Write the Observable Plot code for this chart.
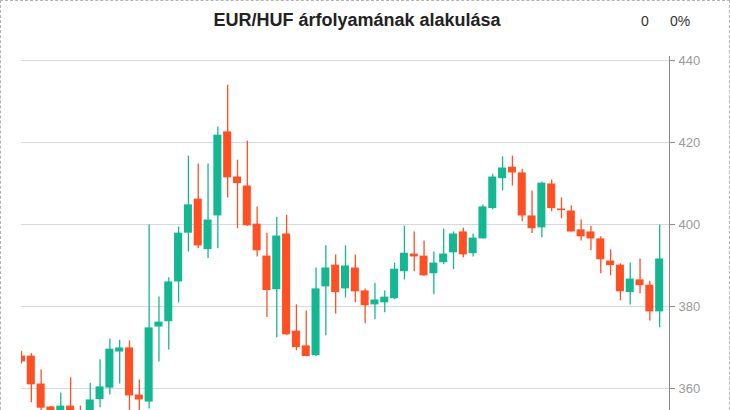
<!DOCTYPE html>
<html>
<head>
<meta charset="utf-8">
<script src="https://cdn.jsdelivr.net/npm/d3@7"></script>
<script src="https://cdn.jsdelivr.net/npm/@observablehq/plot@0.6"></script>
<style>
  html, body { margin: 0; padding: 0; background: #fff; overflow: hidden; }
  #wrap { position: relative; width: 730px; height: 480px; font-family: "Liberation Sans", Arial, sans-serif; }
  #border { position: absolute; left: 0; top: 0; width: 730px; height: 480px; border: 1px dashed #b4b4b4; box-sizing: border-box; pointer-events: none; }
  #title { position: absolute; left: 0; top: 9px; width: 714px; text-align: center; font-size: 18px; font-weight: bold; color: #222; line-height: 22px; }
  #stat0 { position: absolute; left: 641px; top: 11px; font-size: 14px; color: #333; line-height: 20px; }
  #stat1 { position: absolute; left: 670px; top: 11px; font-size: 14px; color: #333; line-height: 20px; }
  #chart { position: absolute; left: 0; top: 0; }
</style>
</head>
<body>
<div id="wrap">
  <div id="chart"></div>
  <div id="title">EUR/HUF árfolyamának alakulása</div>
  <div id="stat0">0</div>
  <div id="stat1">0%</div>
  <div id="border"></div>
</div>
<script>
const openVals  = [367.9,367.9,361.1,355.5,353.0,355.7,353.2,352.2,357.3,360.1,368.9,369.9,358.4,356.7,375.0,376.3,386.0,397.9,406.2,393.9,402.1,422.6,411.6,409.4,400.1,392.3,384.1,397.7,374.0,370.4,368.0,384.8,390.1,384.3,389.4,383.8,380.4,380.9,381.9,388.5,392.8,392.3,388.0,390.7,393.1,398.2,392.9,396.5,403.9,411.2,414.0,412.6,402.1,399.2,409.9,403.8,403.3,398.7,398.2,396.5,391.1,390.1,383.4,386.5,385.2,378.7];
const highVals  = [369.1,368.5,364.5,355.6,358.9,362.6,355.7,361.3,367.0,372.1,371.8,371.6,362.1,399.9,382.3,387.0,399.4,416.7,414.8,414.8,423.8,434.0,415.7,420.4,404.3,397.9,401.8,402.3,380.4,378.9,389.4,394.8,392.6,394.8,392.6,384.3,385.7,383.8,390.6,399.6,398.2,396.0,393.3,398.9,398.2,399.1,397.7,404.8,412.3,416.5,416.7,413.5,408.2,410.4,410.9,406.5,404.5,401.1,399.6,397.0,393.8,390.4,390.6,391.6,386.2,399.9];
const lowVals   = [366.0,356.5,354.6,352.0,352.3,352.5,350.8,351.5,355.3,358.4,361.1,354.0,354.3,355.0,366.5,369.4,380.9,393.3,394.1,391.7,394.1,406.5,399.0,399.6,392.1,377.3,372.4,372.9,369.2,367.8,367.8,372.9,378.2,382.1,380.9,375.8,376.8,378.5,381.7,386.5,388.5,387.3,382.9,390.2,389.0,391.9,392.1,396.5,403.6,408.2,409.4,400.7,397.8,396.8,403.1,401.4,398.2,396.0,393.6,388.0,387.5,381.4,380.4,383.1,376.5,374.8];
const closeVals = [366.5,360.9,355.2,353.2,355.7,353.4,351.6,357.2,360.4,369.6,369.9,358.2,357.2,374.8,376.2,386.0,397.9,404.8,394.8,401.1,421.8,411.4,410.0,399.7,393.6,383.9,397.2,373.1,370.0,367.8,384.3,389.4,383.4,389.9,383.6,380.2,381.6,382.3,389.1,393.0,392.1,387.5,390.6,392.8,397.7,392.6,396.7,404.3,411.6,413.8,412.6,402.1,399.0,410.1,403.9,403.4,398.2,397.0,396.5,391.4,390.0,383.6,386.7,385.1,378.7,391.6];
const yTicks = [360, 380, 400, 420, 440];

const upColor = "#13b892";
const downColor = "#ff4f23";

const candles = openVals.map((o, i) => ({
  i, open: o, high: highVals[i], low: lowVals[i], close: closeVals[i],
  up: closeVals[i] >= o
}));
const n = candles.length;
const halfW = 0.41;

const chart = Plot.plot({
  width: 730,
  height: 480,
  marginLeft: 21,
  marginRight: 61,
  marginTop: 56,
  marginBottom: 10,
  style: { fontFamily: "'Liberation Sans', Arial, sans-serif", fontSize: "13px", background: "transparent" },
  x: { type: "linear", domain: [0, n], axis: null },
  y: { domain: [340, 441], axis: null },
  marks: [
    Plot.gridY(yTicks, { stroke: "#d4d9dd", strokeOpacity: 1 }),
    Plot.ruleX(candles, {
      x: "i", y1: "low", y2: "high",
      stroke: d => d.up ? upColor : downColor,
      strokeWidth: 1.3, clip: true
    }),
    Plot.rect(candles, {
      x1: d => d.i - halfW, x2: d => d.i + halfW,
      y1: "open", y2: "close",
      fill: d => d.up ? upColor : downColor,
      clip: true
    }),
    Plot.ruleX([n], { stroke: "#8a8a8a", strokeWidth: 1 }),
    Plot.axisY(yTicks, {
      anchor: "right", tickSize: 5, tickPadding: 4,
      stroke: "#8a8a8a", fill: "#9a9a9a", fontSize: 13
    })
  ]
});
document.getElementById("chart").appendChild(chart);
</script>
</body>
</html>
